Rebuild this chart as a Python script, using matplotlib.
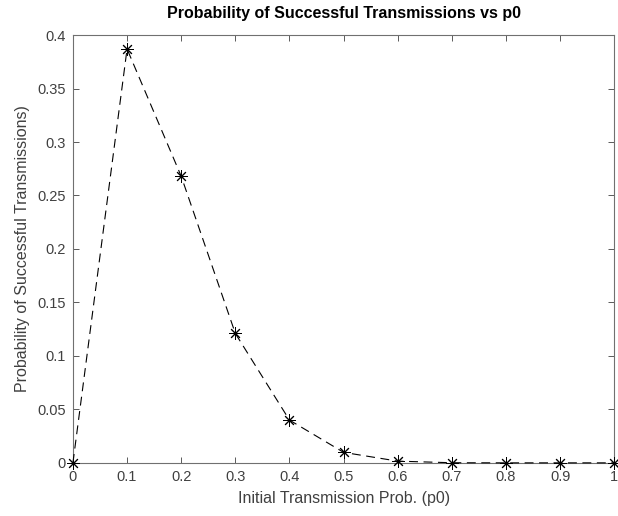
import matplotlib
matplotlib.use("Agg")
import matplotlib.pyplot as plt

# data
p0 = [0, 0.1, 0.2, 0.3, 0.4, 0.5, 0.6, 0.7, 0.8, 0.9, 1.0]
p_success = [0, 0.387, 0.268, 0.121, 0.040, 0.0098, 0.0016, 0.0001, 0, 0, 0]

xticks = [0, 0.1, 0.2, 0.3, 0.4, 0.5, 0.6, 0.7, 0.8, 0.9, 1]
xtick_labels = ['0', '0.1', '0.2', '0.3', '0.4', '0.5', '0.6', '0.7', '0.8', '0.9', '1']
yticks = [0, 0.05, 0.1, 0.15, 0.2, 0.25, 0.3, 0.35, 0.4]
ytick_labels = ['0', '0.05', '0.1', '0.15', '0.2', '0.25', '0.3', '0.35', '0.4']

plt.rcParams['font.family'] = ['Liberation Sans', 'DejaVu Sans']
axcol = '#404040'

fig = plt.figure(figsize=(6.18, 5.16), dpi=100)
ax = fig.add_axes([0.118, 0.103, 0.876, 0.829])

# matlab-style '*' marker -> 8-armed asterisk
ax.plot(p0, p_success, color='black', linestyle=(0, (8, 5)), linewidth=0.8,
        marker=(8, 2, 0), markersize=9, markeredgewidth=0.7, clip_on=False, zorder=3)

ax.set_xlim(0, 1)
ax.set_ylim(0, 0.4)
ax.set_xticks(xticks)
ax.set_xticklabels(xtick_labels)
ax.set_yticks(yticks)
ax.set_yticklabels(ytick_labels)

ax.tick_params(direction='in', top=True, right=True, length=4, width=0.6,
               colors=axcol, labelsize=10.5, pad=5)
for s in ax.spines.values():
    s.set_color('#707070')
    s.set_linewidth(0.8)

ax.set_xlabel('Initial Transmission Prob. (p0)', fontsize=11.5, color=axcol, labelpad=5)
ax.set_ylabel('Probability of Successful Transmissions)', fontsize=11.5, color=axcol, labelpad=5)
ax.set_title('Probability of Successful Transmissions vs p0', fontsize=11.5,
             fontweight='bold', color='black', pad=12)

fig.savefig('out.png', dpi=100)
